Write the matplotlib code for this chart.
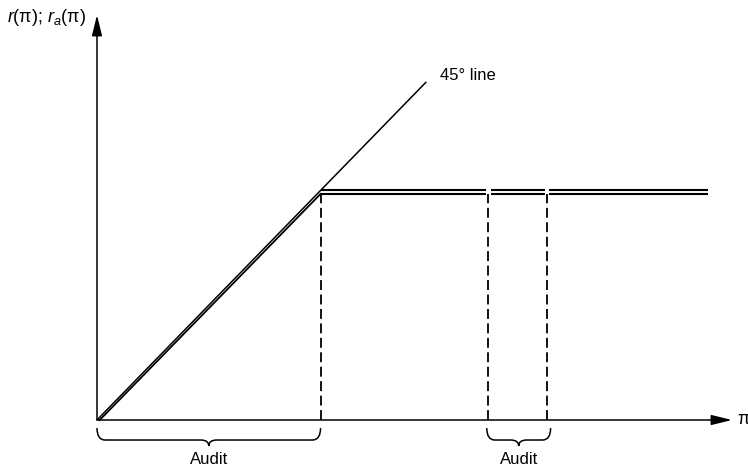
import numpy as np
import matplotlib
matplotlib.use("Agg")
import matplotlib.pyplot as plt
from matplotlib.path import Path
from matplotlib.patches import PathPatch

plt.rcParams['font.family'] = ['Liberation Sans', 'DejaVu Sans']
plt.rcParams['mathtext.fontset'] = 'custom'
plt.rcParams['mathtext.rm'] = 'Liberation Sans'
plt.rcParams['mathtext.it'] = 'Liberation Sans:italic'

# values (pi on x, r on y)
line45_x = [0.0, 1.47]
line45_y = [0.0, 1.47]
cap_upper = 1.0          # r(pi) ceiling
cap_lower = 0.983        # r_a(pi) ceiling
diag_lower_x = [0.012, 0.998]
diag_lower_y = [0.0, 0.983]
flat_end = 2.728
gaps = [(1.737, 1.759), (2.0, 2.018)]
dashed_x = [0.998, 1.746, 2.009]
audit_ranges = [(0.0, 0.998), (1.74, 2.025)]
audit_labels = ["Audit", "Audit"]
x_axis_end = 2.835
y_axis_end = 1.761

fig = plt.figure(figsize=(7.48, 4.67), dpi=100)
ax = fig.add_axes([0, 0, 1, 1])
ax.set_xlim(-97 / 224, 651 / 224)
ax.set_ylim(-47 / 230, 420 / 230)
ax.axis('off')

# axes with arrows
arrow = dict(arrowstyle='-|>,head_length=0.9,head_width=0.22', lw=1.1,
             color='black', mutation_scale=14, shrinkA=0, shrinkB=0)
ax.annotate('', xy=(x_axis_end, 0), xytext=(0, 0), arrowprops=arrow)
ax.annotate('', xy=(0, y_axis_end), xytext=(0, 0), arrowprops=arrow)

# 45 degree line
ax.plot(line45_x, line45_y, color='black', lw=1.1, solid_capstyle='butt')

# r_a diagonal (just below 45 line)
ax.plot(diag_lower_x, diag_lower_y, color='black', lw=1.3)


def flat_segments(x0, x1, cuts):
    segs = []
    start = x0
    for a, b in cuts:
        segs.append((start, a))
        start = b
    segs.append((start, x1))
    return segs


for a, b in flat_segments(cap_upper, flat_end, gaps):
    ax.plot([a, b], [cap_upper, cap_upper], color='black', lw=1.5,
            solid_capstyle='butt')
for a, b in flat_segments(diag_lower_x[1], flat_end, gaps):
    ax.plot([a, b], [cap_lower, cap_lower], color='black', lw=1.5,
            solid_capstyle='butt')

# dashed verticals
for xv in dashed_x:
    ax.plot([xv, xv], [0, cap_lower], color='black', lw=1.3,
            linestyle=(0, (5.5, 2.5)))


def brace(xa, xb, yt=-0.035, yb=-0.087, ytip=-0.113, r=0.036):
    xm = (xa + xb) / 2
    verts = [(xa, yt), (xa, yb), (xa + r, yb),
             (xm - r, yb), (xm, yb), (xm, ytip),
             (xm, yb), (xm + r, yb),
             (xb - r, yb), (xb, yb), (xb, yt)]
    codes = [Path.MOVETO, Path.CURVE3, Path.CURVE3,
             Path.LINETO, Path.CURVE3, Path.CURVE3,
             Path.CURVE3, Path.CURVE3,
             Path.LINETO, Path.CURVE3, Path.CURVE3]
    ax.add_patch(PathPatch(Path(verts, codes), facecolor='none',
                           edgecolor='black', lw=1.1))
    return xm


for (xa, xb), lab in zip(audit_ranges, audit_labels):
    xm = brace(xa, xb)
    ax.text(xm, -0.14, lab, ha='center', va='top', fontsize=12)

ax.text(1.53, 1.50, "45° line", ha='left', va='center', fontsize=12)
ax.text(2.857, 0, "π", ha='left', va='center', fontsize=13)
ax.text(-0.05, 1.75, r"$r$(π); $r_a$(π)", ha='right', va='center',
        fontsize=13)

fig.savefig("out.png", dpi=100)
